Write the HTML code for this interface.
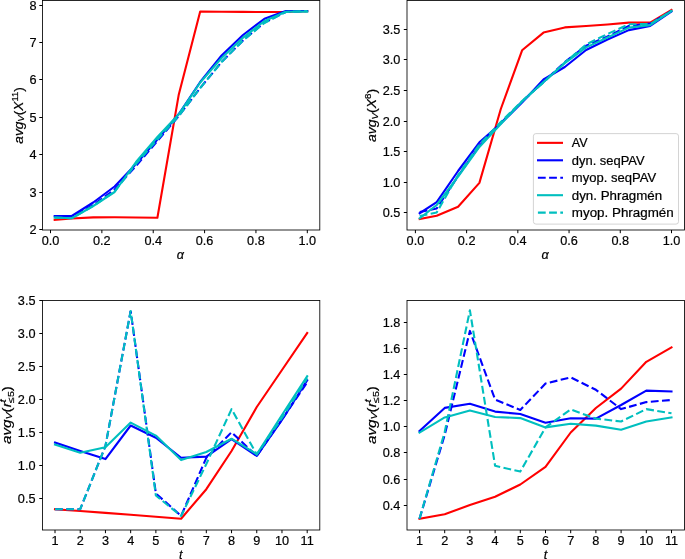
<!DOCTYPE html><html><head><meta charset="utf-8"><style>html,body{margin:0;padding:0;background:#fff;overflow:hidden}svg{display:block;will-change:transform}text{font-family:"Liberation Sans",sans-serif;fill:#000;stroke:#000;stroke-width:0.2px}</style></head><body>
<svg width="685" height="559" viewBox="0 0 685 559">
<rect width="685" height="559" fill="#fff"/>
<polyline points="54.68,219.80 71.80,218.50 93.20,217.40 114.60,217.30 136.00,217.50 157.40,217.80 178.80,94.40 200.20,11.60 221.60,11.80 243.00,11.90 264.40,12.00 285.80,12.00 307.20,11.20" fill="none" stroke="#ff0000" stroke-width="2.1" stroke-linejoin="round" stroke-linecap="square"/>
<polyline points="54.68,216.00 71.80,216.00 93.20,202.50 114.60,186.50 136.00,164.00 157.40,139.50 178.80,114.00 200.20,82.00 221.60,55.50 243.00,35.00 264.40,18.80 285.80,11.00 307.20,11.00" fill="none" stroke="#0000ff" stroke-width="2.1" stroke-linejoin="round" stroke-linecap="square"/>
<polyline points="54.68,216.80 71.80,217.00 93.20,205.00 114.60,189.50 136.00,166.00 157.40,141.00 178.80,116.00 200.20,88.00 221.60,62.00 243.00,40.50 264.40,22.50 285.80,12.00 307.20,11.00" fill="none" stroke="#0000ff" stroke-width="2.1" stroke-linejoin="round" stroke-linecap="butt" stroke-dasharray="7.8 3.4"/>
<polyline points="54.68,217.60 71.80,218.30 93.20,206.00 114.60,192.00 136.00,162.00 157.40,137.00 178.80,114.30 200.20,82.50 221.60,58.00 243.00,37.70 264.40,21.00 285.80,11.70 307.20,11.60" fill="none" stroke="#00bfbf" stroke-width="2.1" stroke-linejoin="round" stroke-linecap="square"/>
<polyline points="54.68,217.60 71.80,218.10 93.20,206.00 114.60,191.50 136.00,164.00 157.40,139.50 178.80,116.00 200.20,88.00 221.60,62.00 243.00,40.50 264.40,23.00 285.80,12.00 307.20,11.00" fill="none" stroke="#00bfbf" stroke-width="2.1" stroke-linejoin="round" stroke-linecap="butt" stroke-dasharray="7.8 3.4"/>
<rect x="42.5" y="0.5" width="277.3" height="229.5" fill="none" stroke="#000" stroke-width="0.85"/>
<line x1="39.3" y1="229.5" x2="42.5" y2="229.5" stroke="#000" stroke-width="1"/>
<text x="36.6" y="234.05" text-anchor="end" font-size="12.7">2</text>
<line x1="39.3" y1="192.5" x2="42.5" y2="192.5" stroke="#000" stroke-width="1"/>
<text x="36.6" y="197.05" text-anchor="end" font-size="12.7">3</text>
<line x1="39.3" y1="154.5" x2="42.5" y2="154.5" stroke="#000" stroke-width="1"/>
<text x="36.6" y="159.05" text-anchor="end" font-size="12.7">4</text>
<line x1="39.3" y1="117.5" x2="42.5" y2="117.5" stroke="#000" stroke-width="1"/>
<text x="36.6" y="122.05" text-anchor="end" font-size="12.7">5</text>
<line x1="39.3" y1="79.5" x2="42.5" y2="79.5" stroke="#000" stroke-width="1"/>
<text x="36.6" y="84.05" text-anchor="end" font-size="12.7">6</text>
<line x1="39.3" y1="42.5" x2="42.5" y2="42.5" stroke="#000" stroke-width="1"/>
<text x="36.6" y="47.05" text-anchor="end" font-size="12.7">7</text>
<line x1="39.3" y1="5.5" x2="42.5" y2="5.5" stroke="#000" stroke-width="1"/>
<text x="36.6" y="10.05" text-anchor="end" font-size="12.7">8</text>
<line x1="50.5" y1="230.0" x2="50.5" y2="233.2" stroke="#000" stroke-width="1"/>
<text x="50.50" y="244.7" text-anchor="middle" font-size="12.7">0.0</text>
<line x1="101.86" y1="230.0" x2="101.86" y2="233.2" stroke="#000" stroke-width="1"/>
<text x="101.86" y="244.7" text-anchor="middle" font-size="12.7">0.2</text>
<line x1="153.22" y1="230.0" x2="153.22" y2="233.2" stroke="#000" stroke-width="1"/>
<text x="153.22" y="244.7" text-anchor="middle" font-size="12.7">0.4</text>
<line x1="204.57999999999998" y1="230.0" x2="204.57999999999998" y2="233.2" stroke="#000" stroke-width="1"/>
<text x="204.58" y="244.7" text-anchor="middle" font-size="12.7">0.6</text>
<line x1="255.94" y1="230.0" x2="255.94" y2="233.2" stroke="#000" stroke-width="1"/>
<text x="255.94" y="244.7" text-anchor="middle" font-size="12.7">0.8</text>
<line x1="307.3" y1="230.0" x2="307.3" y2="233.2" stroke="#000" stroke-width="1"/>
<text x="307.30" y="244.7" text-anchor="middle" font-size="12.7">1.0</text>
<polyline points="419.70,219.00 436.70,215.70 458.10,206.70 479.40,182.90 500.80,109.00 522.10,50.30 543.50,32.60 564.80,27.40 586.10,26.00 607.50,24.50 628.80,22.60 650.20,22.60 671.50,10.00" fill="none" stroke="#ff0000" stroke-width="2.1" stroke-linejoin="round" stroke-linecap="square"/>
<polyline points="419.70,213.20 436.70,202.20 458.10,171.00 479.40,142.30 500.80,123.50 522.10,102.50 543.50,79.50 564.80,67.00 586.10,50.00 607.50,39.50 628.80,30.10 650.20,26.00 671.50,11.50" fill="none" stroke="#0000ff" stroke-width="2.1" stroke-linejoin="round" stroke-linecap="square"/>
<polyline points="419.70,212.00 436.70,208.50 458.10,176.00 479.40,146.00 500.80,123.00 522.10,101.50 543.50,82.00 564.80,62.00 586.10,45.70 607.50,36.50 628.80,26.00 650.20,23.50 671.50,11.00" fill="none" stroke="#0000ff" stroke-width="2.1" stroke-linejoin="round" stroke-linecap="butt" stroke-dasharray="7.8 3.4"/>
<polyline points="419.70,218.30 436.70,205.00 458.10,176.50 479.40,147.00 500.80,124.00 522.10,101.50 543.50,82.00 564.80,63.10 586.10,47.40 607.50,37.50 628.80,27.60 650.20,25.20 671.50,11.00" fill="none" stroke="#00bfbf" stroke-width="2.1" stroke-linejoin="round" stroke-linecap="square"/>
<polyline points="419.70,216.00 436.70,212.50 458.10,175.00 479.40,144.50 500.80,122.00 522.10,101.00 543.50,82.50 564.80,62.50 586.10,44.50 607.50,34.00 628.80,24.30 650.20,24.00 671.50,10.90" fill="none" stroke="#00bfbf" stroke-width="2.1" stroke-linejoin="round" stroke-linecap="butt" stroke-dasharray="7.8 3.4"/>
<rect x="407.0" y="0.5" width="277.5" height="229.5" fill="none" stroke="#000" stroke-width="0.85"/>
<line x1="403.8" y1="212.5" x2="407.0" y2="212.5" stroke="#000" stroke-width="1"/>
<text x="400.4" y="217.05" text-anchor="end" font-size="12.7">0.5</text>
<line x1="403.8" y1="182.5" x2="407.0" y2="182.5" stroke="#000" stroke-width="1"/>
<text x="400.4" y="187.05" text-anchor="end" font-size="12.7">1.0</text>
<line x1="403.8" y1="151.5" x2="407.0" y2="151.5" stroke="#000" stroke-width="1"/>
<text x="400.4" y="156.05" text-anchor="end" font-size="12.7">1.5</text>
<line x1="403.8" y1="121.5" x2="407.0" y2="121.5" stroke="#000" stroke-width="1"/>
<text x="400.4" y="126.05" text-anchor="end" font-size="12.7">2.0</text>
<line x1="403.8" y1="90.5" x2="407.0" y2="90.5" stroke="#000" stroke-width="1"/>
<text x="400.4" y="95.05" text-anchor="end" font-size="12.7">2.5</text>
<line x1="403.8" y1="59.5" x2="407.0" y2="59.5" stroke="#000" stroke-width="1"/>
<text x="400.4" y="64.05" text-anchor="end" font-size="12.7">3.0</text>
<line x1="403.8" y1="29.5" x2="407.0" y2="29.5" stroke="#000" stroke-width="1"/>
<text x="400.4" y="34.05" text-anchor="end" font-size="12.7">3.5</text>
<line x1="415.4" y1="230.0" x2="415.4" y2="233.2" stroke="#000" stroke-width="1"/>
<text x="415.40" y="244.7" text-anchor="middle" font-size="12.7">0.0</text>
<line x1="466.62" y1="230.0" x2="466.62" y2="233.2" stroke="#000" stroke-width="1"/>
<text x="466.62" y="244.7" text-anchor="middle" font-size="12.7">0.2</text>
<line x1="517.8399999999999" y1="230.0" x2="517.8399999999999" y2="233.2" stroke="#000" stroke-width="1"/>
<text x="517.84" y="244.7" text-anchor="middle" font-size="12.7">0.4</text>
<line x1="569.06" y1="230.0" x2="569.06" y2="233.2" stroke="#000" stroke-width="1"/>
<text x="569.06" y="244.7" text-anchor="middle" font-size="12.7">0.6</text>
<line x1="620.28" y1="230.0" x2="620.28" y2="233.2" stroke="#000" stroke-width="1"/>
<text x="620.28" y="244.7" text-anchor="middle" font-size="12.7">0.8</text>
<line x1="671.5" y1="230.0" x2="671.5" y2="233.2" stroke="#000" stroke-width="1"/>
<text x="671.50" y="244.7" text-anchor="middle" font-size="12.7">1.0</text>
<polyline points="55.00,509.20 80.22,511.00 105.44,512.90 130.66,514.80 155.88,516.70 181.10,518.70 206.32,489.20 231.54,451.00 256.76,407.00 281.98,370.00 307.20,333.00" fill="none" stroke="#ff0000" stroke-width="2.1" stroke-linejoin="round" stroke-linecap="square"/>
<polyline points="55.00,442.60 80.22,451.00 105.44,459.10 130.66,425.50 155.88,437.70 181.10,457.80 206.32,456.60 231.54,439.20 256.76,455.90 281.98,420.00 307.20,380.30" fill="none" stroke="#0000ff" stroke-width="2.1" stroke-linejoin="round" stroke-linecap="square"/>
<polyline points="55.00,509.20 80.22,509.20 105.44,446.00 130.66,311.00" fill="none" stroke="#0000ff" stroke-width="2.1" stroke-linejoin="round" stroke-linecap="butt" stroke-dasharray="7.8 3.4"/>
<polyline points="130.66,311.00 155.88,493.50 181.10,515.90 206.32,457.80 231.54,432.20 256.76,456.00 281.98,419.50 307.20,382.40" fill="none" stroke="#0000ff" stroke-width="2.1" stroke-linejoin="round" stroke-linecap="butt" stroke-dasharray="7.8 3.4" stroke-dashoffset="5.1"/>
<polyline points="55.00,444.50 80.22,452.80 105.44,447.20 130.66,422.60 155.88,435.60 181.10,460.10 206.32,452.00 231.54,438.70 256.76,454.30 281.98,415.00 307.20,376.20" fill="none" stroke="#00bfbf" stroke-width="2.1" stroke-linejoin="round" stroke-linecap="square"/>
<polyline points="55.00,509.20 80.22,509.20 105.44,446.00 130.66,311.00 155.88,495.50 181.10,516.00 206.32,464.00 231.54,409.10 256.76,454.50 281.98,418.00 307.20,378.30" fill="none" stroke="#00bfbf" stroke-width="2.1" stroke-linejoin="round" stroke-linecap="butt" stroke-dasharray="7.8 3.4"/>
<rect x="42.5" y="300.5" width="277.3" height="229.5" fill="none" stroke="#000" stroke-width="0.85"/>
<line x1="39.3" y1="498.5" x2="42.5" y2="498.5" stroke="#000" stroke-width="1"/>
<text x="35.5" y="503.05" text-anchor="end" font-size="12.7">0.5</text>
<line x1="39.3" y1="465.5" x2="42.5" y2="465.5" stroke="#000" stroke-width="1"/>
<text x="35.5" y="470.05" text-anchor="end" font-size="12.7">1.0</text>
<line x1="39.3" y1="432.5" x2="42.5" y2="432.5" stroke="#000" stroke-width="1"/>
<text x="35.5" y="437.05" text-anchor="end" font-size="12.7">1.5</text>
<line x1="39.3" y1="399.5" x2="42.5" y2="399.5" stroke="#000" stroke-width="1"/>
<text x="35.5" y="404.05" text-anchor="end" font-size="12.7">2.0</text>
<line x1="39.3" y1="366.5" x2="42.5" y2="366.5" stroke="#000" stroke-width="1"/>
<text x="35.5" y="371.05" text-anchor="end" font-size="12.7">2.5</text>
<line x1="39.3" y1="333.5" x2="42.5" y2="333.5" stroke="#000" stroke-width="1"/>
<text x="35.5" y="338.05" text-anchor="end" font-size="12.7">3.0</text>
<line x1="39.3" y1="300.5" x2="42.5" y2="300.5" stroke="#000" stroke-width="1"/>
<text x="35.5" y="305.05" text-anchor="end" font-size="12.7">3.5</text>
<line x1="55.0" y1="530.0" x2="55.0" y2="533.2" stroke="#000" stroke-width="1"/>
<text x="55.00" y="544.9" text-anchor="middle" font-size="12.7">1</text>
<line x1="80.22" y1="530.0" x2="80.22" y2="533.2" stroke="#000" stroke-width="1"/>
<text x="80.22" y="544.9" text-anchor="middle" font-size="12.7">2</text>
<line x1="105.44" y1="530.0" x2="105.44" y2="533.2" stroke="#000" stroke-width="1"/>
<text x="105.44" y="544.9" text-anchor="middle" font-size="12.7">3</text>
<line x1="130.66" y1="530.0" x2="130.66" y2="533.2" stroke="#000" stroke-width="1"/>
<text x="130.66" y="544.9" text-anchor="middle" font-size="12.7">4</text>
<line x1="155.88" y1="530.0" x2="155.88" y2="533.2" stroke="#000" stroke-width="1"/>
<text x="155.88" y="544.9" text-anchor="middle" font-size="12.7">5</text>
<line x1="181.1" y1="530.0" x2="181.1" y2="533.2" stroke="#000" stroke-width="1"/>
<text x="181.10" y="544.9" text-anchor="middle" font-size="12.7">6</text>
<line x1="206.32" y1="530.0" x2="206.32" y2="533.2" stroke="#000" stroke-width="1"/>
<text x="206.32" y="544.9" text-anchor="middle" font-size="12.7">7</text>
<line x1="231.54" y1="530.0" x2="231.54" y2="533.2" stroke="#000" stroke-width="1"/>
<text x="231.54" y="544.9" text-anchor="middle" font-size="12.7">8</text>
<line x1="256.76" y1="530.0" x2="256.76" y2="533.2" stroke="#000" stroke-width="1"/>
<text x="256.76" y="544.9" text-anchor="middle" font-size="12.7">9</text>
<line x1="281.98" y1="530.0" x2="281.98" y2="533.2" stroke="#000" stroke-width="1"/>
<text x="281.98" y="544.9" text-anchor="middle" font-size="12.7">10</text>
<line x1="307.2" y1="530.0" x2="307.2" y2="533.2" stroke="#000" stroke-width="1"/>
<text x="307.20" y="544.9" text-anchor="middle" font-size="12.7">11</text>
<polyline points="419.50,518.80 444.70,514.30 469.90,505.00 495.10,496.80 520.30,484.50 545.50,466.80 570.70,432.50 595.90,408.00 621.10,388.60 646.30,361.80 671.50,347.40" fill="none" stroke="#ff0000" stroke-width="2.1" stroke-linejoin="round" stroke-linecap="square"/>
<polyline points="419.50,431.00 444.70,407.90 469.90,403.80 495.10,411.60 520.30,414.00 545.50,422.80 570.70,418.30 595.90,418.60 621.10,405.00 646.30,390.60 671.50,391.40" fill="none" stroke="#0000ff" stroke-width="2.1" stroke-linejoin="round" stroke-linecap="square"/>
<polyline points="419.50,518.80 444.70,435.00 469.90,330.90 495.10,399.50 520.30,410.00 545.50,383.50 570.70,377.40 595.90,389.80 621.10,409.10 646.30,402.10 671.50,400.00" fill="none" stroke="#0000ff" stroke-width="2.1" stroke-linejoin="round" stroke-linecap="butt" stroke-dasharray="7.8 3.4"/>
<polyline points="419.50,432.60 444.70,417.40 469.90,410.40 495.10,417.00 520.30,418.10 545.50,427.40 570.70,423.80 595.90,425.60 621.10,429.70 646.30,421.50 671.50,417.40" fill="none" stroke="#00bfbf" stroke-width="2.1" stroke-linejoin="round" stroke-linecap="square"/>
<polyline points="419.50,518.80 444.70,432.00 469.90,310.30 495.10,465.80 520.30,471.60 545.50,427.40 570.70,409.50 595.90,418.60 621.10,421.50 646.30,409.10 671.50,413.30" fill="none" stroke="#00bfbf" stroke-width="2.1" stroke-linejoin="round" stroke-linecap="butt" stroke-dasharray="7.8 3.4"/>
<rect x="407.0" y="300.5" width="277.5" height="229.5" fill="none" stroke="#000" stroke-width="0.85"/>
<line x1="403.8" y1="505.5" x2="407.0" y2="505.5" stroke="#000" stroke-width="1"/>
<text x="400.4" y="510.05" text-anchor="end" font-size="12.7">0.4</text>
<line x1="403.8" y1="479.5" x2="407.0" y2="479.5" stroke="#000" stroke-width="1"/>
<text x="400.4" y="484.05" text-anchor="end" font-size="12.7">0.6</text>
<line x1="403.8" y1="452.5" x2="407.0" y2="452.5" stroke="#000" stroke-width="1"/>
<text x="400.4" y="457.05" text-anchor="end" font-size="12.7">0.8</text>
<line x1="403.8" y1="426.5" x2="407.0" y2="426.5" stroke="#000" stroke-width="1"/>
<text x="400.4" y="431.05" text-anchor="end" font-size="12.7">1.0</text>
<line x1="403.8" y1="400.5" x2="407.0" y2="400.5" stroke="#000" stroke-width="1"/>
<text x="400.4" y="405.05" text-anchor="end" font-size="12.7">1.2</text>
<line x1="403.8" y1="374.5" x2="407.0" y2="374.5" stroke="#000" stroke-width="1"/>
<text x="400.4" y="379.05" text-anchor="end" font-size="12.7">1.4</text>
<line x1="403.8" y1="348.5" x2="407.0" y2="348.5" stroke="#000" stroke-width="1"/>
<text x="400.4" y="353.05" text-anchor="end" font-size="12.7">1.6</text>
<line x1="403.8" y1="322.5" x2="407.0" y2="322.5" stroke="#000" stroke-width="1"/>
<text x="400.4" y="327.05" text-anchor="end" font-size="12.7">1.8</text>
<line x1="419.5" y1="530.0" x2="419.5" y2="533.2" stroke="#000" stroke-width="1"/>
<text x="419.50" y="544.9" text-anchor="middle" font-size="12.7">1</text>
<line x1="444.7" y1="530.0" x2="444.7" y2="533.2" stroke="#000" stroke-width="1"/>
<text x="444.70" y="544.9" text-anchor="middle" font-size="12.7">2</text>
<line x1="469.9" y1="530.0" x2="469.9" y2="533.2" stroke="#000" stroke-width="1"/>
<text x="469.90" y="544.9" text-anchor="middle" font-size="12.7">3</text>
<line x1="495.1" y1="530.0" x2="495.1" y2="533.2" stroke="#000" stroke-width="1"/>
<text x="495.10" y="544.9" text-anchor="middle" font-size="12.7">4</text>
<line x1="520.3" y1="530.0" x2="520.3" y2="533.2" stroke="#000" stroke-width="1"/>
<text x="520.30" y="544.9" text-anchor="middle" font-size="12.7">5</text>
<line x1="545.5" y1="530.0" x2="545.5" y2="533.2" stroke="#000" stroke-width="1"/>
<text x="545.50" y="544.9" text-anchor="middle" font-size="12.7">6</text>
<line x1="570.7" y1="530.0" x2="570.7" y2="533.2" stroke="#000" stroke-width="1"/>
<text x="570.70" y="544.9" text-anchor="middle" font-size="12.7">7</text>
<line x1="595.9" y1="530.0" x2="595.9" y2="533.2" stroke="#000" stroke-width="1"/>
<text x="595.90" y="544.9" text-anchor="middle" font-size="12.7">8</text>
<line x1="621.1" y1="530.0" x2="621.1" y2="533.2" stroke="#000" stroke-width="1"/>
<text x="621.10" y="544.9" text-anchor="middle" font-size="12.7">9</text>
<line x1="646.3" y1="530.0" x2="646.3" y2="533.2" stroke="#000" stroke-width="1"/>
<text x="646.30" y="544.9" text-anchor="middle" font-size="12.7">10</text>
<line x1="671.5" y1="530.0" x2="671.5" y2="533.2" stroke="#000" stroke-width="1"/>
<text x="671.50" y="544.9" text-anchor="middle" font-size="12.7">11</text>
<text transform="translate(23.0,115.4) rotate(-90)" text-anchor="middle" font-size="12.7" textLength="56.6" lengthAdjust="spacingAndGlyphs"><tspan font-style="italic">avg</tspan><tspan font-style="italic" font-size="8.9" dy="1.4">V</tspan><tspan dy="-1.4">(</tspan><tspan font-style="italic">X</tspan><tspan font-size="8.9" dy="-5">11</tspan><tspan dy="5">)</tspan></text>
<text transform="translate(376.4,115.4) rotate(-90)" text-anchor="middle" font-size="12.7" textLength="53.2" lengthAdjust="spacingAndGlyphs"><tspan font-style="italic">avg</tspan><tspan font-style="italic" font-size="8.9" dy="1.4">V</tspan><tspan dy="-1.4">(</tspan><tspan font-style="italic">X</tspan><tspan font-size="8.9" dy="-5">8</tspan><tspan dy="5">)</tspan></text>
<text transform="translate(10.7,415.0) rotate(-90)" text-anchor="middle" font-size="12.7" textLength="57.8" lengthAdjust="spacingAndGlyphs"><tspan font-style="italic">avg</tspan><tspan font-style="italic" font-size="8.9" dy="1.4">V</tspan><tspan dy="-1.4">(</tspan><tspan font-style="italic">r</tspan><tspan font-style="italic" font-size="8.9" dy="-5">t</tspan><tspan font-size="8.9" dx="-3" dy="8">≤5</tspan><tspan dy="-3">)</tspan></text>
<text transform="translate(375.5,415.0) rotate(-90)" text-anchor="middle" font-size="12.7" textLength="57.8" lengthAdjust="spacingAndGlyphs"><tspan font-style="italic">avg</tspan><tspan font-style="italic" font-size="8.9" dy="1.4">V</tspan><tspan dy="-1.4">(</tspan><tspan font-style="italic">r</tspan><tspan font-style="italic" font-size="8.9" dy="-5">t</tspan><tspan font-size="8.9" dx="-3" dy="8">≤5</tspan><tspan dy="-3">)</tspan></text>
<text x="180.4" y="259.0" text-anchor="middle" font-size="12.7" font-style="italic">α</text>
<text x="545.0" y="259.0" text-anchor="middle" font-size="12.7" font-style="italic">α</text>
<text x="180.8" y="558.8" text-anchor="middle" font-size="12.7" font-style="italic">t</text>
<text x="545.5" y="559.0" text-anchor="middle" font-size="12.7" font-style="italic">t</text>
<rect x="533.4" y="133.6" width="145.1" height="90.5" rx="2.5" ry="2.5" fill="#fff" fill-opacity="0.8" stroke="#cccccc" stroke-width="0.85"/>
<line x1="537.0" y1="142.85" x2="563.0" y2="142.85" stroke="#ff0000" stroke-width="2.1" stroke-dashoffset="10.3"/>
<text x="571.8" y="147.30" font-size="12.2" textLength="15.8" lengthAdjust="spacingAndGlyphs">AV</text>
<line x1="537.0" y1="160.30" x2="563.0" y2="160.30" stroke="#0000ff" stroke-width="2.1" stroke-dashoffset="10.3"/>
<text x="571.8" y="164.75" font-size="12.2" textLength="72.8" lengthAdjust="spacingAndGlyphs">dyn. seqPAV</text>
<line x1="537.0" y1="177.75" x2="563.0" y2="177.75" stroke="#0000ff" stroke-width="2.1" stroke-dasharray="7.8 3.4" stroke-dashoffset="10.3"/>
<text x="571.8" y="182.20" font-size="12.2" textLength="84.3" lengthAdjust="spacingAndGlyphs">myop. seqPAV</text>
<line x1="537.0" y1="195.20" x2="563.0" y2="195.20" stroke="#00bfbf" stroke-width="2.1" stroke-dashoffset="10.3"/>
<text x="571.8" y="199.65" font-size="12.2" textLength="90.3" lengthAdjust="spacingAndGlyphs">dyn. Phragmén</text>
<line x1="537.0" y1="212.65" x2="563.0" y2="212.65" stroke="#00bfbf" stroke-width="2.1" stroke-dasharray="7.8 3.4" stroke-dashoffset="10.3"/>
<text x="571.8" y="217.10" font-size="12.2" textLength="101.9" lengthAdjust="spacingAndGlyphs">myop. Phragmén</text>
</svg></body></html>
